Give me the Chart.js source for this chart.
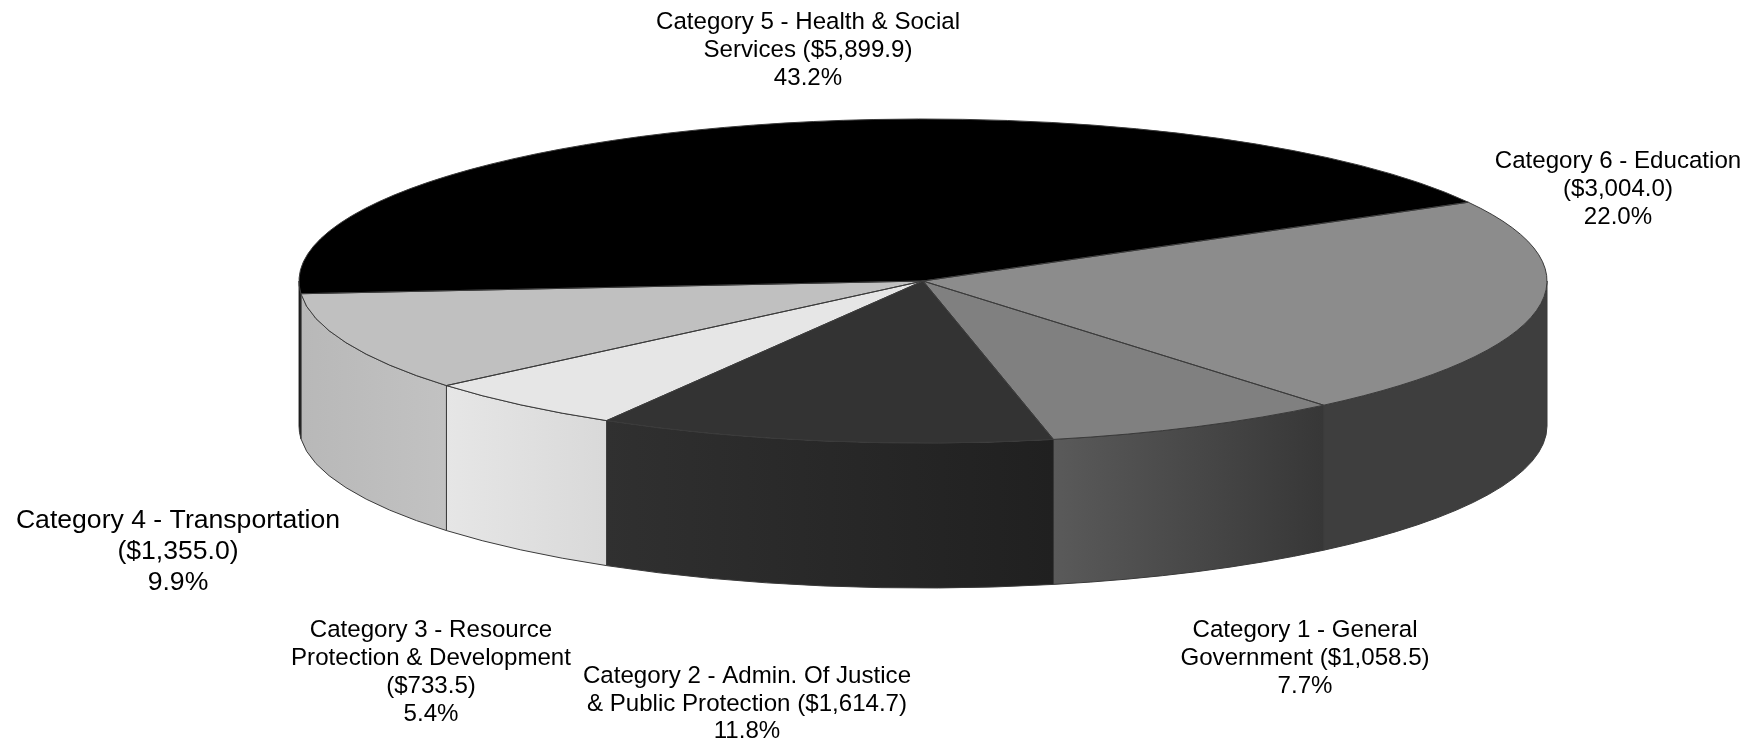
<!DOCTYPE html>
<html>
<head>
<meta charset="utf-8">
<title>Expenditures by category</title>
<script src="https://cdn.jsdelivr.net/npm/chart.js@4"></script>
<style>
  html, body { margin: 0; padding: 0; background: #fff; }
  canvas { display: block; }
</style>
</head>
<body>
<canvas id="pie" width="1756" height="743"></canvas>
<script>
const categories = ["Category 1", "Category 2", "Category 3", "Category 4", "Category 5", "Category 6"];
const amounts = [1058.5, 1614.7, 733.5, 1355.0, 5899.9, 3004.0];

const topColors = ["#808080", "#333333", "#e6e6e6", "#c0c0c0", "#000000", "#8c8c8c"];
const wallLeftColors = ["#5a5a5a", "#303030", "#e6e6e6", "#b8b8b8", "#000000", "#3e3e3e"];
const wallRightColors = ["#373737", "#202020", "#d9d9d9", "#c2c2c2", "#000000", "#3e3e3e"];

const labelLines = [
  ["Category 1 - General", "Government ($1,058.5)", "7.7%"],
  ["Category 2 - Admin. Of Justice", "& Public Protection ($1,614.7)", "11.8%"],
  ["Category 3 - Resource", "Protection & Development", "($733.5)", "5.4%"],
  ["Category 4 - Transportation", "($1,355.0)", "9.9%"],
  ["Category 5 - Health & Social", "Services ($5,899.9)", "43.2%"],
  ["Category 6 - Education", "($3,004.0)", "22.0%"]
];
// center x, first baseline y, line height, font px
const labelLayout = [
  [1305, 637, 28, 24.1],
  [747, 683, 27.5, 24.1],
  [431, 637, 28, 24.1],
  [178, 528, 31, 26.6],
  [808, 29, 28, 24.1],
  [1618, 168, 28, 24.1]
];

// The flattened disc on screen
const discX = 923;
const discY = 281;
const discRx = 624;
const discRy = 162;
const discDepth = 145;
const edgeColor = "#3a3a3a";

function lowerHalf(start, end) {
  // the part of a slice that faces the viewer, sweep kept inside 0..PI
  const turn = Math.PI * 2;
  const s = ((start % turn) + turn) % turn;
  const e = s + (end - start);
  if (e > turn) return [0, Math.min(e - turn, Math.PI)];
  if (s >= Math.PI) return null;
  return [s, Math.min(e, Math.PI)];
}

const discPlugin = {
  id: "disc",
  beforeDatasetsDraw(chart) {
    const ctx = chart.ctx;
    const arcs = chart.getDatasetMeta(0).data;

    // side walls first, the top goes over them
    arcs.forEach((arc, i) => {
      const range = lowerHalf(arc.startAngle, arc.endAngle);
      if (!range) return;
      const [a0, a1] = range;
      const xLeft = discX + discRx * Math.cos(a1);
      const xRight = discX + discRx * Math.cos(a0);
      const grad = ctx.createLinearGradient(xLeft, 0, xRight, 0);
      grad.addColorStop(0, wallLeftColors[i]);
      grad.addColorStop(1, wallRightColors[i]);
      ctx.beginPath();
      ctx.ellipse(discX, discY, discRx, discRy, 0, a0, a1);
      ctx.ellipse(discX, discY + discDepth, discRx, discRy, 0, a1, a0, true);
      ctx.closePath();
      ctx.fillStyle = grad;
      ctx.fill();
      ctx.strokeStyle = edgeColor;
      ctx.lineWidth = 1;
      ctx.stroke();
    });

    // squash the round pie into the ellipse
    const first = arcs[0];
    ctx.save();
    ctx.translate(discX, discY);
    ctx.scale(discRx / first.outerRadius, discRy / first.outerRadius);
    ctx.translate(-first.x, -first.y);
  },
  afterDatasetsDraw(chart) {
    const ctx = chart.ctx;
    ctx.restore();

    // outlines stay one pixel wide, so they are stroked after the transform is gone
    chart.getDatasetMeta(0).data.forEach((arc) => {
      ctx.beginPath();
      ctx.moveTo(discX, discY);
      ctx.ellipse(discX, discY, discRx, discRy, 0, arc.startAngle, arc.endAngle);
      ctx.closePath();
      ctx.strokeStyle = edgeColor;
      ctx.lineWidth = 1;
      ctx.stroke();
    });

    ctx.fillStyle = "#000";
    ctx.textAlign = "center";
    ctx.textBaseline = "alphabetic";
    labelLines.forEach((lines, i) => {
      const [x, y, step, size] = labelLayout[i];
      ctx.font = size + 'px "Liberation Sans", Arial, sans-serif';
      lines.forEach((line, n) => ctx.fillText(line, x, y + n * step));
    });
  }
};

new Chart(document.getElementById("pie"), {
  type: "pie",
  data: {
    labels: categories,
    datasets: [{
      data: amounts,
      backgroundColor: topColors,
      borderWidth: 0,
      clip: false
    }]
  },
  options: {
    responsive: false,
    animation: false,
    rotation: 140.05,
    plugins: {
      legend: { display: false },
      tooltip: { enabled: false }
    }
  },
  plugins: [discPlugin]
});
</script>
</body>
</html>
